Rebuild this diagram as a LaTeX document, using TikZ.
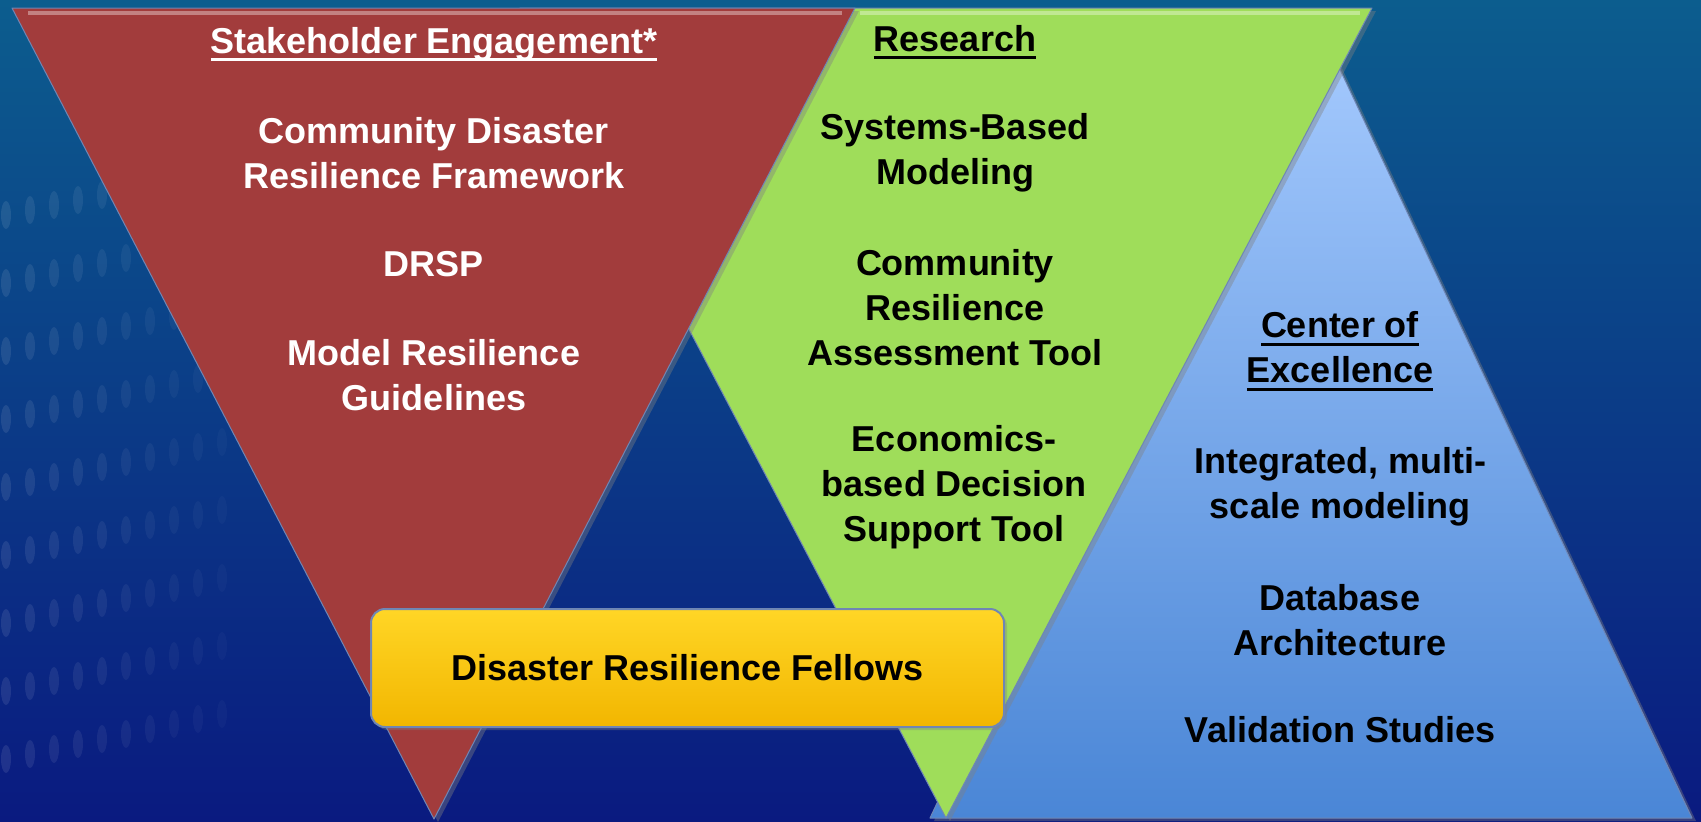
\documentclass[tikz,border=0pt]{standalone}
\usepackage{fontspec}
\setmainfont{Liberation Sans}
\usetikzlibrary{shadows}

\definecolor{bgtop}{HTML}{0C5D8E}
\definecolor{bgmid}{HTML}{0A3A8E}
\definecolor{bgbot}{HTML}{0A1A80}
\definecolor{engred}{HTML}{A23C3C}
\definecolor{resgreen}{HTML}{9FDD5A}
\definecolor{coetop}{HTML}{A8CCFF}
\definecolor{coebot}{HTML}{4A86D6}
\definecolor{edgeblue}{HTML}{6F86B4}
\definecolor{fellowtop}{HTML}{FFD626}
\definecolor{fellowmid}{HTML}{FFC30B}
\definecolor{fellowbot}{HTML}{F2B600}

\newcommand\slidefont{\fontsize{36}{45}\selectfont\bfseries}
\newcommand\ulined[1]{\setbox0=\hbox{#1}\rlap{\rule[-8pt]{\wd0}{3pt}}\box0}

\begin{document}
\begin{tikzpicture}[x=1pt, y=-1pt,
    pillar/.style={draw=edgeblue, line width=1pt, line join=round,
        drop shadow={opacity=0.4, shadow xshift=4pt, shadow yshift=-3pt}},
    words/.style={font=\slidefont, align=center, text=black},
    whitewords/.style={words, text=white},
    fellowbox/.style={draw=edgeblue, line width=2pt, rounded corners=14pt,
        top color=fellowtop, middle color=fellowmid, bottom color=fellowbot,
        minimum width=633pt, minimum height=118pt, font=\slidefont,
        drop shadow={opacity=0.35, shadow xshift=3pt, shadow yshift=-3pt}}
]
    \useasboundingbox (0,0) rectangle (1701,822);

    % 1. Slide background with the faint dot rows on the left
    \shade[top color=bgtop, middle color=bgmid, bottom color=bgbot] (0,0) rectangle (1701,822);
    \foreach \r in {0,...,8} {
        \foreach \c in {0,...,9} {
            \fill[white, opacity={0.09-0.007*\c}] ({6+\c*24}, {215+\r*68-\c*5}) ellipse (5 and 14);
        }
    }

    % 2. The three pillars: blue first, then green, red on top
    \path[pillar, top color=coetop, bottom color=coebot] (930,818) -- (1312,10) -- (1692,818) -- cycle;
    \path[pillar, fill=resgreen] (520,8) -- (1372,8) -- (946,818) -- cycle;
    \draw[line width=4pt, resgreen!50!white, opacity=0.7] (860,13) -- (1360,13);
    \path[pillar, fill=engred] (12,8) -- (855,8) -- (434,819) -- cycle;
    \draw[line width=4pt, engred!55!white, opacity=0.8] (28,13) -- (842,13);

    % 3. Stakeholder engagement
    \node[whitewords] (enghead) at (434,44) {\ulined{Stakeholder Engagement*}};
    \node[whitewords] (framework) at (434,153) {Community Disaster\\Resilience Framework};
    \node[whitewords] (drsp) at (434,264) {DRSP};
    \node[whitewords] (guidelines) at (434,375) {Model Resilience\\Guidelines};

    % 4. Research
    \node[words] (reshead) at (955,42) {\ulined{Research}};
    \node[words] (sysmodel) at (955,153) {Systems-Based\\Modeling};
    \node[words] (assess) at (955,308) {Community\\Resilience\\Assessment Tool};
    \node[words] (econ) at (954,487) {Economics-\\based Decision\\Support Tool};

    % 5. Center of excellence
    \node[words] (coehead) at (1340,351) {\ulined{Center of}\\\ulined{Excellence}};
    \node[words] (multiscale) at (1340,487) {Integrated, multi-\\scale modeling};
    \node[words] (database) at (1340,620) {Database\\Architecture};
    \node[words] (validation) at (1340,730) {Validation Studies};

    % 6. Fellows bar across the red and green pillars
    \node[fellowbox] (fellows) at (687.5,668) {Disaster Resilience Fellows};
\end{tikzpicture}
\end{document}
